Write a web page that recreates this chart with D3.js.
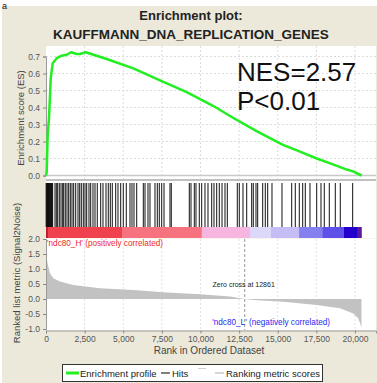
<!DOCTYPE html>
<html>
<head>
<meta charset="utf-8">
<script src="https://cdn.jsdelivr.net/npm/d3@7"></script>
<style>
  body { margin: 0; background: #fff; }
  #chart { width: 377px; height: 383px; }
  text { font-family: "Liberation Sans", Arial, sans-serif; }
</style>
</head>
<body>
<div id="chart"></div>
<script>
// running enrichment score
const esRanks = [0, 45, 110, 194, 259, 304, 434, 693, 1016, 1340, 1618, 1987, 2200, 2570, 3929, 5650, 7379, 9107, 10809, 12104, 13657, 15340, 16440, 17521, 18576, 19463, 19870, 20434];
const esValues = [0, 0.02, 0.24, 0.34, 0.47, 0.57, 0.66, 0.69, 0.705, 0.71, 0.725, 0.715, 0.715, 0.725, 0.685, 0.63, 0.56, 0.49, 0.41, 0.34, 0.26, 0.18, 0.14, 0.10, 0.065, 0.035, 0.024, 0.0];

// positions of gene set members in the ranked list
const hitRanks = [10, 40, 70, 100, 130, 160, 190, 220, 250, 280, 310, 340, 370, 400, 430,
  583, 667, 757, 861, 971, 1081, 1146, 1249, 1359, 1469, 1573, 1683, 1793, 1922, 2071, 2181,
  2285, 2414, 2524, 2634, 2783, 2893, 3042, 3172, 3320, 3540, 3689, 3883, 4032, 4162, 4291,
  4511, 4660, 4835, 5003, 5197, 5437, 5566, 5696, 5871, 6298, 6408, 6602, 6731, 7055, 7204,
  7333, 7489, 7638, 8026, 8110, 9275, 9385, 9599, 9709, 9922, 10078, 10291, 10485, 10725,
  10874, 11049, 11217, 11392, 11586, 11735, 12382, 12511, 12751, 12990, 13314, 13417, 13592,
  13702, 14026, 14194, 14350, 14628, 15275, 15903, 16136, 16395, 16615, 16783, 17087, 17521,
  17799, 18013, 18337, 18725, 19049, 19851];

// ranked list metric (Signal2Noise)
const metricRanks = [0, 20, 45, 97, 150, 259, 472, 906, 1767, 3495, 5650, 7812, 9968, 11909, 12861, 13417, 15359, 17521, 19029, 19890, 20214, 20369, 20420];
const metricValues = [1.9, 1.6, 1.4, 1.2, 1.08, 0.86, 0.69, 0.58, 0.47, 0.36, 0.30, 0.22, 0.16, 0.08, 0, -0.03, -0.09, -0.2, -0.31, -0.48, -0.64, -0.87, -0.95];

// colour bar under the hits
const heatEdges = [0, 130, 4920, 10080, 13200, 14560, 16380, 17910, 19290, 20170, 20420];
const heatColors = ["#c0202e", "#f0424e", "#f5727e", "#f7b6e0", "#dcd8fa", "#c4bdf6", "#8580f0", "#5e50e8", "#2400cc", "#5a1aa0"];

const xTicks = [0, 2500, 5000, 7500, 10000, 12500, 15000, 17500, 20000];
const esTicks = [0, 0.1, 0.2, 0.3, 0.4, 0.5, 0.6, 0.7];
const metricTicks = [-1, -0.5, 0, 0.5, 1, 1.5, 2];
const zeroCross = 12861;

const width = 377;
const height = 383;
const left = 46;
const right = 376;

const svg = d3.select("#chart")
  .append("svg")
  .attr("width", width)
  .attr("height", height);

svg.append("rect")
  .attr("x", 2).attr("y", 6)
  .attr("width", width - 2).attr("height", height - 6)
  .attr("fill", "#ece9da");

svg.append("text")
  .attr("x", 2).attr("y", 9)
  .attr("font-size", "9px")
  .attr("fill", "#111")
  .text("a");

// titles
svg.append("text")
  .attr("x", 191).attr("y", 20)
  .attr("text-anchor", "middle")
  .attr("font-size", "13px")
  .attr("font-weight", "700")
  .attr("fill", "#222")
  .text("Enrichment plot:");

svg.append("text")
  .attr("x", 191).attr("y", 39)
  .attr("text-anchor", "middle")
  .attr("font-size", "13.5px")
  .attr("font-weight", "700")
  .attr("fill", "#222")
  .text("KAUFFMANN_DNA_REPLICATION_GENES");

const x = d3.scaleLinear()
  .domain([0, 21360])
  .range([left, right]);

const yES = d3.scaleLinear()
  .domain([0, 0.7])
  .range([175.5, 56.5]);

const yM = d3.scaleLinear()
  .domain([-1, 2])
  .range([329, 239]);

const tickFmt = d => d.toFixed(1);

// ---- ES panel
svg.append("rect")
  .attr("x", left).attr("y", 46)
  .attr("width", right - left).attr("height", 133.5)
  .attr("fill", "#fff");

svg.append("g")
  .selectAll("line")
  .data(esTicks.slice(1))
  .join("line")
  .attr("x1", left).attr("x2", right)
  .attr("y1", d => yES(d)).attr("y2", d => yES(d))
  .attr("stroke", "#dcdcdc")
  .attr("stroke-dasharray", "2,2");

svg.append("g")
  .selectAll("line")
  .data(xTicks.slice(1))
  .join("line")
  .attr("x1", d => x(d)).attr("x2", d => x(d))
  .attr("y1", 46).attr("y2", 179)
  .attr("stroke", "#dcdcdc")
  .attr("stroke-dasharray", "2,2");

svg.append("line")
  .attr("x1", left).attr("x2", right)
  .attr("y1", yES(0)).attr("y2", yES(0))
  .attr("stroke", "#c8c8c8")
  .attr("stroke-width", 1.5);

svg.append("g")
  .attr("transform", "translate(" + left + ",0)")
  .call(d3.axisLeft(yES).tickValues(esTicks).tickFormat(tickFmt).tickSize(3).tickPadding(3))
  .call(g => g.select(".domain").attr("stroke", "#999"))
  .call(g => g.selectAll(".tick line").attr("stroke", "#888"))
  .call(g => g.selectAll("text").attr("font-size", "8.5px").attr("fill", "#555").attr("font-family", "Liberation Sans, Arial, sans-serif"));

const esLine = d3.line()
  .x((d, i) => x(esRanks[i]))
  .y(d => yES(d));

svg.append("path")
  .datum(esValues)
  .attr("fill", "none")
  .attr("stroke", "#22ee22")
  .attr("stroke-width", 2.5)
  .attr("stroke-linejoin", "round")
  .attr("d", esLine);

svg.append("text")
  .attr("x", 237).attr("y", 81)
  .attr("font-size", "26px")
  .attr("fill", "#111")
  .text("NES=2.57");

svg.append("text")
  .attr("x", 237).attr("y", 110)
  .attr("font-size", "26px")
  .attr("fill", "#111")
  .text("P<0.01");

svg.append("text")
  .attr("transform", "translate(24,118) rotate(-90)")
  .attr("text-anchor", "middle")
  .attr("font-size", "9.5px")
  .attr("fill", "#444")
  .text("Enrichment score (ES)");

// ---- hits panel
svg.append("line")
  .attr("x1", left).attr("x2", right)
  .attr("y1", 180).attr("y2", 180)
  .attr("stroke", "#c0c0c0")
  .attr("stroke-width", 2);

svg.append("rect")
  .attr("x", left).attr("y", 181)
  .attr("width", right - left).attr("height", 57)
  .attr("fill", "#fff");

svg.append("g")
  .selectAll("line")
  .data(hitRanks)
  .join("line")
  .attr("x1", d => x(d)).attr("x2", d => x(d))
  .attr("y1", 183).attr("y2", 227)
  .attr("stroke", "#111")
  .attr("stroke-width", 1);

svg.append("g")
  .selectAll("rect")
  .data(heatColors)
  .join("rect")
  .attr("x", (d, i) => x(heatEdges[i]))
  .attr("width", (d, i) => x(heatEdges[i + 1]) - x(heatEdges[i]) + 0.3)
  .attr("y", 227).attr("height", 11)
  .attr("fill", d => d);

// ---- ranked metric panel
svg.append("rect")
  .attr("x", left).attr("y", 238.5)
  .attr("width", right - left).attr("height", 92)
  .attr("fill", "#fff");

svg.append("g")
  .selectAll("line")
  .data(xTicks.slice(1))
  .join("line")
  .attr("x1", d => x(d)).attr("x2", d => x(d))
  .attr("y1", 239).attr("y2", 330)
  .attr("stroke", "#e2e2e2")
  .attr("stroke-dasharray", "2,2");

const metricArea = d3.area()
  .x((d, i) => x(metricRanks[i]))
  .y0(yM(0))
  .y1(d => yM(d));

svg.append("path")
  .datum(metricValues)
  .attr("fill", "#c2c2c2")
  .attr("d", metricArea);

svg.append("line")
  .attr("x1", x(zeroCross)).attr("x2", x(zeroCross))
  .attr("y1", 239).attr("y2", 330)
  .attr("stroke", "#999")
  .attr("stroke-dasharray", "3,2");

svg.append("g")
  .attr("transform", "translate(" + left + ",0)")
  .call(d3.axisLeft(yM).tickValues(metricTicks).tickFormat(tickFmt).tickSize(3).tickPadding(3))
  .call(g => g.select(".domain").attr("stroke", "#999"))
  .call(g => g.selectAll(".tick line").attr("stroke", "#888"))
  .call(g => g.selectAll("text").attr("font-size", "8.5px").attr("fill", "#555").attr("font-family", "Liberation Sans, Arial, sans-serif"));

svg.append("g")
  .attr("transform", "translate(0,330.5)")
  .call(d3.axisBottom(x).tickValues(xTicks).tickFormat(d3.format(",")).tickSize(3).tickPadding(2))
  .call(g => g.select(".domain").attr("stroke", "#999"))
  .call(g => g.selectAll(".tick line").attr("stroke", "#888"))
  .call(g => g.selectAll("text").attr("font-size", "8.5px").attr("fill", "#555").attr("font-family", "Liberation Sans, Arial, sans-serif"));

svg.append("text")
  .attr("x", 47).attr("y", 246)
  .attr("font-size", "8.2px")
  .attr("fill", "#ee2a2a")
  .text("'ndc80_H' (positively correlated)");

svg.append("text")
  .attr("x", x(zeroCross) - 1).attr("y", 286.5)
  .attr("text-anchor", "middle")
  .attr("font-size", "7px")
  .attr("fill", "#222")
  .text("Zero cross at " + zeroCross);

svg.append("text")
  .attr("x", 330).attr("y", 325)
  .attr("text-anchor", "end")
  .attr("font-size", "8.2px")
  .attr("fill", "#2a2aee")
  .text("'ndc80_L' (negatively correlated)");

svg.append("text")
  .attr("transform", "translate(20,273) rotate(-90)")
  .attr("text-anchor", "middle")
  .attr("font-size", "9.5px")
  .attr("fill", "#444")
  .text("Ranked list metric (Signal2Noise)");

svg.append("text")
  .attr("x", 209).attr("y", 354)
  .attr("text-anchor", "middle")
  .attr("font-size", "10px")
  .attr("fill", "#444")
  .text("Rank in Ordered Dataset");

// ---- legend
const legend = svg.append("g");

legend.append("rect")
  .attr("x", 62.5).attr("y", 364.5)
  .attr("width", 260).attr("height", 17)
  .attr("fill", "#fff")
  .attr("stroke", "#333");

legend.append("line")
  .attr("x1", 66).attr("x2", 79)
  .attr("y1", 373).attr("y2", 373)
  .attr("stroke", "#22ee22")
  .attr("stroke-width", 3);

legend.append("line")
  .attr("x1", 161).attr("x2", 170)
  .attr("y1", 373).attr("y2", 373)
  .attr("stroke", "#555")
  .attr("stroke-width", 1.5);

legend.append("line")
  .attr("x1", 198).attr("x2", 206)
  .attr("y1", 368.5).attr("y2", 368.5)
  .attr("stroke", "#d0d0d0");

legend.append("line")
  .attr("x1", 215).attr("x2", 224)
  .attr("y1", 373).attr("y2", 373)
  .attr("stroke", "#c8c8c8")
  .attr("stroke-width", 1.5);

[["Enrichment profile", 80], ["Hits", 172], ["Ranking metric scores", 226]].forEach(d => {
  legend.append("text")
    .attr("x", d[1]).attr("y", 376.5)
    .attr("font-size", "9.5px")
    .attr("fill", "#222")
    .text(d[0]);
});
</script>
</body>
</html>
